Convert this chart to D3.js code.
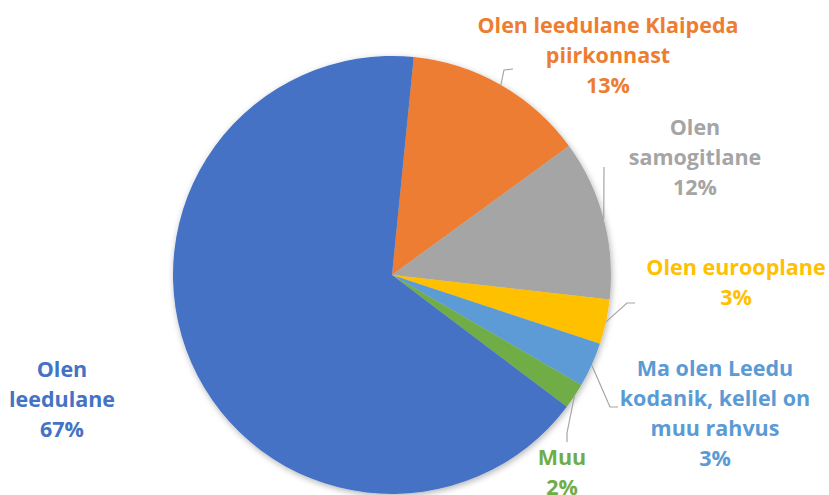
<!DOCTYPE html>
<html>
<head>
<meta charset="utf-8">
<script src="https://cdn.jsdelivr.net/npm/d3@7"></script>
<style>
  html, body { margin: 0; padding: 0; background: #fff; }
  svg { display: block; }
  text { font-family: "Open Sans", "Noto Sans", sans-serif; font-weight: 700; }
</style>
</head>
<body>
<svg id="chart" width="829" height="495"></svg>
<script>
// Data (clockwise from top, as in the reference)
const categories = [
  "Olen leedulane Klaipeda piirkonnast",
  "Olen samogitlane",
  "Olen eurooplane",
  "Ma olen Leedu kodanik, kellel on muu rahvus",
  "Muu",
  "Olen leedulane"
];
const values = [13.4, 11.8, 3.3, 3.3, 1.9, 66.3];
const percentLabels = ["13%", "12%", "3%", "3%", "2%", "67%"];
const labelLines = [
  ["Olen leedulane Klaipeda", "piirkonnast"],
  ["Olen", "samogitlane"],
  ["Olen eurooplane"],
  ["Ma olen Leedu", "kodanik, kellel on", "muu rahvus"],
  ["Muu"],
  ["Olen", "leedulane"]
];
const colors = ["#ED7D31", "#A5A5A5", "#FFC000", "#5B9BD5", "#70AD47", "#4472C4"];

// Layout
const cx = 392, cy = 275, r = 219;
const startAngle = 5.7 * Math.PI / 180;
const labelPos = [
  { x: 608, y: 33 },
  { x: 695, y: 135 },
  { x: 736, y: 275 },
  { x: 715, y: 376 },
  { x: 562, y: 465 },
  { x: 62,  y: 377 }
];
const lineGap = 30;
const leaders = [
  { elbow: [504, 70], end: [513, 69] },
  { elbow: [604, 167], end: [604, 167] },
  { elbow: [627, 303], end: [635, 303] },
  { elbow: [610, 407], end: [618, 407] },
  { elbow: [567, 433], end: [567, 442] },
  null
];

const svg = d3.select("#chart");
const defs = svg.append("defs");
const f = defs.append("filter").attr("id", "shadow")
  .attr("x", "-10%").attr("y", "-10%").attr("width", "120%").attr("height", "120%");
f.append("feDropShadow").attr("dx", 1).attr("dy", 2).attr("stdDeviation", 3)
  .attr("flood-color", "#000").attr("flood-opacity", 0.3);

const pie = d3.pie().sort(null).value(d => d)
  .startAngle(startAngle).endAngle(startAngle + 2 * Math.PI);
const arcs = pie(values);
const arc = d3.arc().innerRadius(0).outerRadius(r);

const g = svg.append("g").attr("transform", `translate(${cx},${cy})`);
g.append("g").attr("filter", "url(#shadow)")
  .selectAll("path").data(arcs).join("path")
  .attr("d", arc)
  .attr("fill", (d, i) => colors[i]);

// Leader lines: start on the rim at each slice's mid angle
const lineG = svg.append("g");
arcs.forEach((d, i) => {
  const L = leaders[i];
  if (!L) return;
  const a = (d.startAngle + d.endAngle) / 2;
  const px = cx + r * Math.sin(a), py = cy - r * Math.cos(a);
  const pts = [[px, py], L.elbow];
  if (L.end[0] !== L.elbow[0] || L.end[1] !== L.elbow[1]) pts.push(L.end);
  lineG.append("path")
    .attr("d", d3.line()(pts))
    .attr("fill", "none").attr("stroke", "#A6A6A6").attr("stroke-width", 1.2);
});

// Labels
labelPos.forEach((p, i) => {
  const t = svg.append("text")
    .attr("text-anchor", "middle")
    .attr("fill", colors[i])
    .attr("font-size", 21.5);
  const lines = labelLines[i].concat([percentLabels[i]]);
  lines.forEach((ln, j) => {
    t.append("tspan").attr("x", p.x).attr("y", p.y + j * lineGap).text(ln);
  });
});
</script>
</body>
</html>
